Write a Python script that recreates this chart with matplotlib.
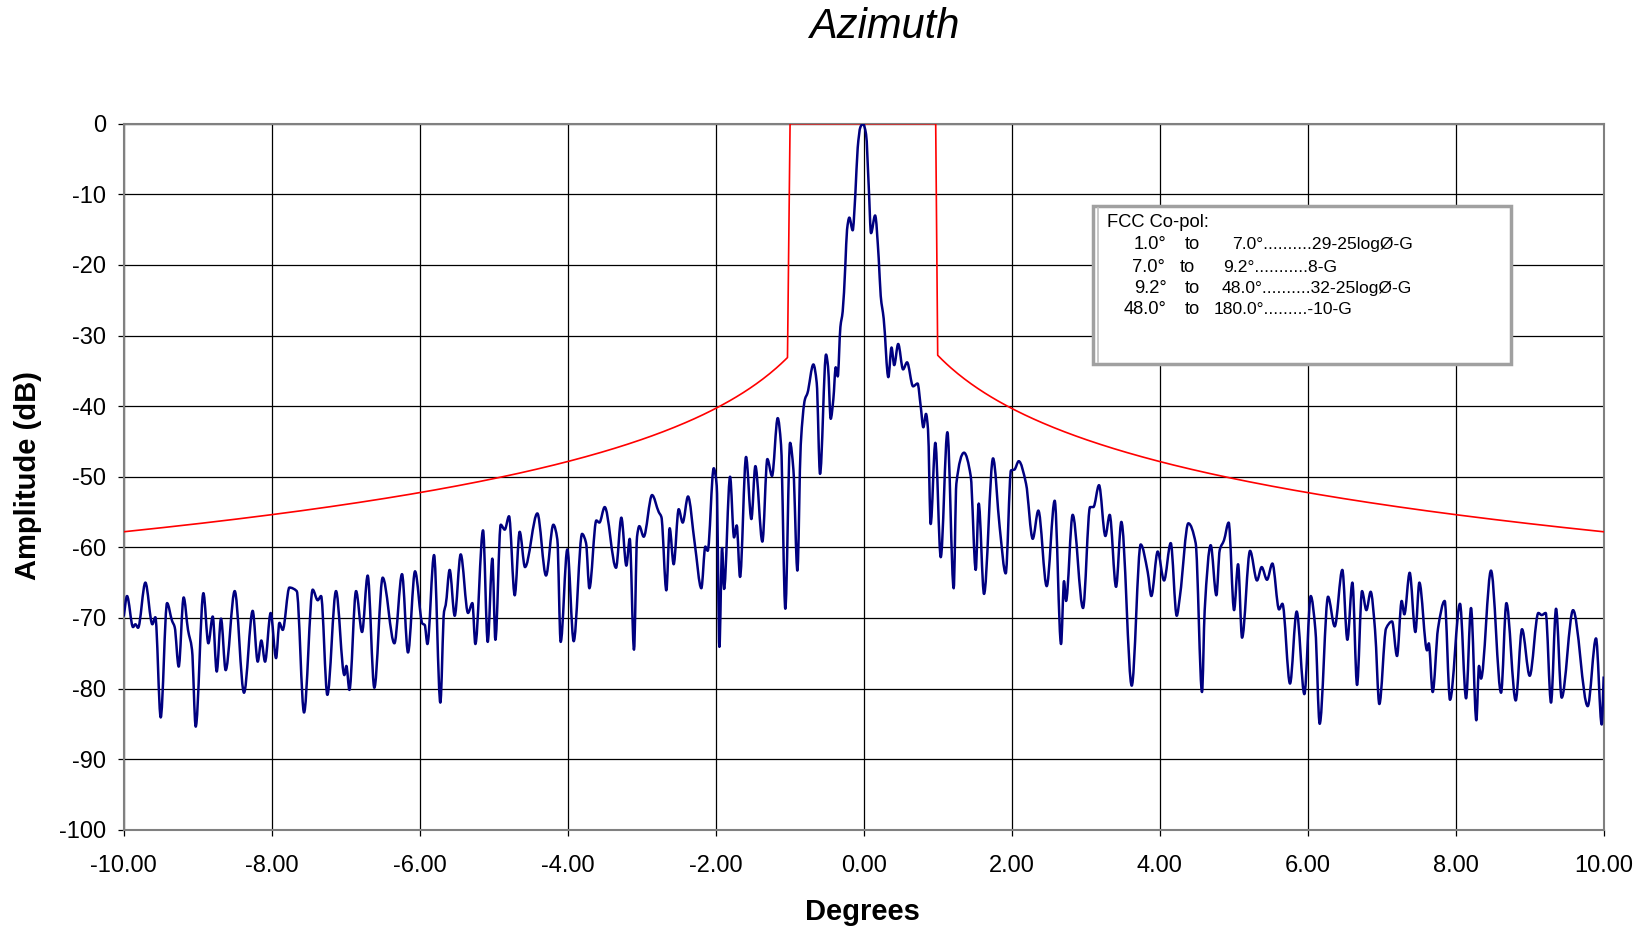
import numpy as np
import matplotlib
matplotlib.use("Agg")
import matplotlib.pyplot as plt
from matplotlib.patches import Rectangle, PathPatch
from matplotlib.path import Path

plt.rcParams['font.family'] = ['Liberation Sans', 'DejaVu Sans']
plt.rcParams['axes.unicode_minus'] = False

left_deg = [-10.0, -9.955, -9.874, -9.842, -9.806, -9.707, -9.613, -9.572, -9.5, -9.414,
            -9.347, -9.311, -9.257, -9.19, -9.131, -9.077, -9.027, -8.923, -8.856, -8.797,
            -8.743, -8.685, -8.622, -8.5, -8.374, -8.257, -8.189, -8.14, -8.09, -8.014,
            -7.941, -7.896, -7.851, -7.761, -7.662, -7.563, -7.446, -7.378, -7.333, -7.248,
            -7.131, -7.018, -6.991, -6.95, -6.86, -6.779, -6.703, -6.613, -6.5, -6.342,
            -6.239, -6.158, -6.063, -5.964, -5.932, -5.896, -5.806, -5.721, -5.671, -5.649,
            -5.595, -5.527, -5.446, -5.347, -5.288, -5.248, -5.144, -5.081, -5.018, -4.977,
            -4.905, -4.851, -4.793, -4.716, -4.649, -4.577, -4.41, -4.293, -4.194, -4.14,
            -4.095, -4.005, -3.919, -3.806, -3.752, -3.707, -3.613, -3.572, -3.5, -3.347,
            -3.275, -3.207, -3.162, -3.104, -3.063, -3.032, -2.973, -2.86, -2.77, -2.734,
            -2.667, -2.622, -2.568, -2.5, -2.446, -2.374, -2.284, -2.194, -2.14, -2.108,
            -2.027]
left_db = [-69.8, -66.9, -71.3, -70.9, -71.4, -65.0, -70.9, -69.9, -84.1, -67.9,
           -70.4, -71.3, -76.9, -67.1, -71.7, -74.5, -85.4, -66.5, -73.6, -69.8,
           -77.6, -70.1, -77.4, -66.2, -80.6, -69.0, -76.2, -73.2, -76.2, -69.3,
           -75.7, -70.7, -71.7, -65.7, -66.2, -83.4, -66.0, -67.5, -66.9, -80.9,
           -66.2, -78.1, -76.8, -80.2, -66.2, -72.0, -64.0, -79.9, -64.3, -73.6,
           -63.8, -74.9, -63.4, -70.8, -71.0, -73.7, -61.1, -82.0, -69.1, -68.2,
           -63.2, -69.7, -61.0, -69.3, -67.9, -73.7, -57.6, -73.4, -61.6, -73.1,
           -56.8, -57.5, -55.6, -66.8, -57.8, -62.8, -55.2, -64.0, -56.8, -58.9,
           -73.4, -60.3, -73.3, -58.1, -59.4, -65.8, -56.2, -56.5, -54.3, -62.9,
           -55.8, -62.6, -58.8, -74.5, -58.5, -57.0, -58.5, -52.6, -55.0, -55.7,
           -66.1, -57.3, -62.4, -54.6, -56.5, -52.8, -59.4, -65.8, -59.9, -60.5,
           -48.8]

beam_deg = [-1.986, -1.95, -1.914, -1.887, -1.806, -1.752, -1.716, -1.671, -1.59, -1.518,
            -1.464, -1.369, -1.302, -1.239, -1.162, -1.117, -1.059, -0.995, -0.95, -0.896,
            -0.851, -0.793, -0.761, -0.68, -0.635, -0.59, -0.509, -0.482, -0.446, -0.41,
            -0.378, -0.351, -0.315, -0.284, -0.248, -0.225, -0.194, -0.149, -0.113, -0.081,
            -0.045, -0.01, 0.032, 0.068, 0.099, 0.154, 0.203, 0.23, 0.27, 0.333,
            0.376, 0.412, 0.466, 0.532, 0.586, 0.667, 0.728, 0.77, 0.806, 0.842,
            0.869, 0.905, 0.968, 1.041, 1.131, 1.216, 1.252, 1.356, 1.446, 1.514,
            1.554, 1.626, 1.748, 1.838, 1.919, 1.991]
beam_db = [-51.3, -74.1, -60.1, -65.9, -50.0, -58.6, -56.9, -64.2, -47.2, -56.0,
           -48.5, -59.2, -47.5, -49.9, -41.7, -45.5, -68.7, -45.2, -49.0, -63.3,
           -45.5, -39.0, -38.2, -34.1, -36.7, -49.6, -32.7, -34.4, -41.8, -39.0,
           -34.5, -35.8, -28.8, -26.6, -20.0, -15.0, -13.3, -15.1, -10.0, -3.4,
           -0.5, 0.0, -1.5, -8.9, -15.5, -13.0, -19.1, -24.4, -27.6, -35.9,
           -31.7, -34.2, -31.2, -34.8, -33.8, -37.2, -36.8, -40.0, -43.0, -41.1,
           -43.3, -56.7, -45.2, -61.4, -43.7, -65.8, -51.0, -46.6, -49.9, -63.2,
           -53.8, -66.6, -47.4, -57.2, -63.7, -49.1]

right_deg = [2.036, 2.095, 2.194, 2.284, 2.36, 2.473, 2.581, 2.667, 2.707, 2.734,
             2.824, 2.964, 3.059, 3.104, 3.18, 3.266, 3.324, 3.41, 3.482, 3.622,
             3.743, 3.838, 3.887, 3.973, 4.059, 4.149, 4.23, 4.275, 4.387, 4.486,
             4.572, 4.608, 4.689, 4.766, 4.811, 4.869, 4.932, 5.005, 5.059, 5.113,
             5.221, 5.315, 5.378, 5.45, 5.523, 5.613, 5.658, 5.761, 5.851, 5.955,
             6.041, 6.104, 6.162, 6.275, 6.365, 6.468, 6.536, 6.604, 6.667, 6.734,
             6.793, 6.851, 6.91, 6.968, 7.059, 7.14, 7.207, 7.27, 7.306, 7.378,
             7.455, 7.509, 7.613, 7.636, 7.689, 7.761, 7.851, 7.923, 8.058, 8.14,
             8.207, 8.279, 8.315, 8.342, 8.477, 8.613, 8.685, 8.811, 8.896, 9.0,
             9.117, 9.162, 9.216, 9.288, 9.356, 9.432, 9.586, 9.784, 9.896, 9.973,
             10.0]
right_db = [-49.0, -47.8, -51.0, -58.8, -54.8, -65.5, -53.4, -73.7, -64.8, -67.6,
            -55.4, -68.6, -54.3, -54.3, -51.2, -58.4, -55.4, -65.6, -56.4, -79.6,
            -59.6, -63.5, -66.9, -60.6, -64.7, -59.4, -69.7, -66.8, -56.6, -59.4,
            -80.5, -68.9, -59.7, -66.8, -60.4, -59.0, -56.5, -68.9, -62.4, -72.8,
            -60.5, -64.7, -62.8, -64.6, -62.3, -68.8, -68.0, -79.3, -69.1, -80.8,
            -66.9, -71.7, -85.0, -67.0, -71.2, -63.2, -73.1, -65.0, -79.5, -66.2,
            -68.9, -66.3, -71.7, -82.2, -71.5, -70.5, -75.4, -67.6, -69.5, -63.6,
            -72.0, -65.0, -74.6, -73.6, -80.5, -71.5, -67.6, -81.6, -68.0, -81.4,
            -68.6, -84.5, -76.8, -78.6, -63.3, -80.6, -67.9, -81.7, -71.6, -78.2,
            -69.3, -69.6, -69.3, -82.0, -68.7, -81.3, -68.9, -82.5, -72.9, -85.1,
            -78.3]

# FCC envelope 29-25logØ-G, flat 0 dB inside +/-1 deg
gain_db = 61.8
mask_edge = [-1.03, -0.995, 0.973, 1.0]

legend_title = "FCC Co-pol:"
legend_from = ["1.0°", "7.0°", "9.2°", "48.0°"]
legend_rule = ["7.0°..........29-25logØ-G", "9.2°...........8-G",
               "48.0°..........32-25logØ-G", "180.0°.........-10-G"]


def smooth_path(x, y):
    # bezier segments through the points, flat tangent at peaks/nulls
    h = np.diff(x)
    d = np.diff(y) / h
    m = np.zeros(len(x))
    m[0], m[-1] = d[0], d[-1]
    for i in range(1, len(x) - 1):
        if d[i - 1] * d[i] > 0:
            w1 = 2 * h[i] + h[i - 1]
            w2 = h[i] + 2 * h[i - 1]
            m[i] = (w1 + w2) / (w1 / d[i - 1] + w2 / d[i])
    verts = [(x[0], y[0])]
    codes = [Path.MOVETO]
    for i in range(len(h)):
        verts += [(x[i] + h[i] / 3, y[i] + m[i] * h[i] / 3),
                  (x[i + 1] - h[i] / 3, y[i + 1] - m[i + 1] * h[i] / 3),
                  (x[i + 1], y[i + 1])]
        codes += [Path.CURVE4] * 3
    return Path(verts, codes)


W, H = 1644, 927
fig = plt.figure(figsize=(W / 100, H / 100), dpi=100)
ax = fig.add_axes([123.7 / W, 1 - 829.7 / H, 1480 / W, 706 / H])

deg = np.array(left_deg + beam_deg + right_deg)
amp = np.array(left_db + beam_db + right_db)

th_l = np.linspace(-10, mask_edge[0], 300)
th_r = np.linspace(mask_edge[3], 10, 300)
env_l = 29 - 25 * np.log10(np.abs(th_l)) - gain_db
env_r = 29 - 25 * np.log10(th_r) - gain_db
mx = np.concatenate([th_l, [mask_edge[1], mask_edge[2]], th_r])
my = np.concatenate([env_l, [0, 0], env_r])

ax.plot(mx, my, color='#ff0000', lw=1.2, zorder=3)
ax.add_patch(PathPatch(smooth_path(deg, amp), fill=False, edgecolor='#000080',
                       lw=1.8, joinstyle='round', zorder=4))

ax.set_xlim(-10, 10)
ax.set_ylim(-100, 0)
ax.set_xticks(np.arange(-10, 11, 2))
ax.set_xticklabels(["%.2f" % v for v in np.arange(-10, 11, 2)])
ax.set_yticks(np.arange(-100, 1, 10))
ax.grid(True, color='black', lw=0.9)
ax.set_axisbelow(True)
for s in ax.spines.values():
    s.set_color('#808080')
    s.set_linewidth(1.5)
ax.tick_params(axis='both', labelsize=17, length=4.5, width=0.9, direction='out')
ax.tick_params(axis='y', pad=8)
ax.tick_params(axis='x', pad=14)

fig.text(884 / W, 1 - 27 / H, "Azimuth", style='italic', fontsize=30, ha='center', va='center')
fig.text(862 / W, 1 - 912 / H, "Degrees", fontweight='bold', fontsize=21, ha='center', va='center')
fig.text(28 / W, 1 - 475 / H, "Amplitude (dB)", fontweight='bold', fontsize=21,
         rotation=90, ha='center', va='center')

# legend box
box = Rectangle((1093.3 / W, 1 - 364 / H), (1511 - 1093.3) / W, (364 - 206) / H,
                transform=fig.transFigure, facecolor='white', edgecolor='#a0a0a0', lw=2.5, zorder=5)
fig.add_artist(box)
fig.add_artist(plt.Line2D([1097.5 / W, 1097.5 / W], [1 - 362 / H, 1 - 208 / H],
                          transform=fig.transFigure, color='#c0c0c0', lw=1.2, zorder=6))
fig.text(1106.7 / W, 1 - 222.5 / H, legend_title, fontsize=13.2, ha='left', va='center', zorder=7)
rows_y = [244.5, 267, 288.5, 310]
from_x = [1166.7, 1165, 1166.7, 1166.7]
to_x = [1184.3, 1179.3, 1184.3, 1184.3]
rule_x = [1231.7, 1223.3, 1221.7, 1213.3]
for i in range(4):
    fig.text(from_x[i] / W, 1 - rows_y[i] / H, legend_from[i], fontsize=13.2, ha='right', va='center', zorder=7)
    fig.text(to_x[i] / W, 1 - rows_y[i] / H, "to", fontsize=13.2, ha='left', va='center', zorder=7)
    fig.text(rule_x[i] / W, 1 - rows_y[i] / H, legend_rule[i], fontsize=12.6, ha='left', va='center', zorder=7)

fig.savefig("out.png", dpi=100)
